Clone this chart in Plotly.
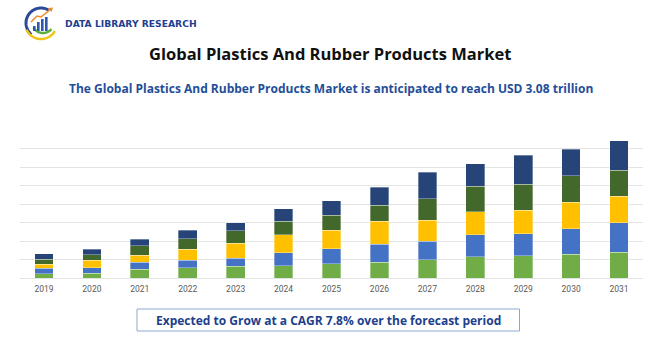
import math
import plotly.graph_objects as go

years = ["2019", "2020", "2021", "2022", "2023", "2024", "2025",
         "2026", "2027", "2028", "2029", "2030", "2031"]

# Segment values (USD billion), bottom to top
seg1 = [97, 112, 195, 225, 262, 270, 322, 352, 405, 472, 495, 532, 577]
seg2 = [127, 120, 157, 172, 180, 292, 330, 405, 420, 502, 502, 570, 659]
seg3 = [82, 165, 157, 247, 337, 412, 420, 517, 472, 517, 525, 600, 600]
seg4 = [120, 120, 210, 232, 277, 300, 337, 360, 487, 570, 577, 592, 577]
seg5 = [120, 127, 150, 195, 180, 277, 330, 405, 592, 502, 659, 592, 667]

series = [
    ("Segment 1", seg1, "#70AD47"),
    ("Segment 2", seg2, "#4472C4"),
    ("Segment 3", seg3, "#FFC000"),
    ("Segment 4", seg4, "#43682B"),
    ("Segment 5", seg5, "#264478"),
]

W, H = 670, 350
ML, MR, MT, MB = 20, 27, 130, 72
PW, PH = W - ML - MR, H - MT - MB


def px(x):
    return (x - ML) / PW


def py(y):
    return (H - MB - y) / PH


fig = go.Figure()
for name, vals, col in series:
    fig.add_trace(go.Bar(
        x=years, y=vals, name=name,
        marker=dict(color=col, line=dict(color="rgba(255,255,255,0.55)", width=0.6)),
        hovertemplate="%{x}: %{y}<extra>" + name + "</extra>",
    ))

annotations = [
    dict(text="<b>Global Plastics And Rubber Products Market</b>",
         x=px(330), y=py(53), xref="paper", yref="paper", showarrow=False,
         font=dict(family="Open Sans", size=16.5, color="#111111"), xanchor="center", yanchor="middle"),
    dict(text="<b>The Global Plastics And Rubber Products Market is anticipated to reach USD 3.08 trillion</b>",
         x=px(331), y=py(88), xref="paper", yref="paper", showarrow=False,
         font=dict(family="Open Sans", size=12, color="#1F4E99"), xanchor="center", yanchor="middle"),
    dict(text="<b>Expected to Grow at a CAGR 7.8% over the forecast period</b>",
         x=px(328), y=py(320), xref="paper", yref="paper", showarrow=False,
         font=dict(family="Open Sans", size=12, color="#203F8C"), xanchor="center", yanchor="middle"),
    dict(text="<b>DATA LIBRARY RESEARCH</b>",
         x=px(63), y=py(23.5), xref="paper", yref="paper", showarrow=False,
         font=dict(family="DejaVu Sans", size=9.2, color="#1F3F8F"), xanchor="left", yanchor="middle"),
]

shapes = [
    dict(type="rect", xref="paper", yref="paper",
         x0=px(137), x1=px(519.5), y0=py(309), y1=py(331),
         line=dict(color="#8EA9CF", width=1), fillcolor="rgba(0,0,0,0)"),
]


def arc_path(cx, cy, r, a0, a1, n=40):
    pts = []
    for i in range(n + 1):
        a = math.radians(a0 + (a1 - a0) * i / n)
        pts.append((px(cx + r * math.cos(a)), py(cy - r * math.sin(a))))
    return "M " + " L ".join(f"{x:.5f},{y:.5f}" for x, y in pts)


# logo: rings
shapes.append(dict(type="path", xref="paper", yref="paper",
                   path=arc_path(41, 23, 15, 60, 230), line=dict(color="#2C4A9A", width=3)))
shapes.append(dict(type="path", xref="paper", yref="paper",
                   path=arc_path(41, 23, 16, 205, 330), line=dict(color="#F2C418", width=2.5)))
shapes.append(dict(type="path", xref="paper", yref="paper",
                   path=arc_path(43, 22, 11, 210, 320), line=dict(color="#5AAE3C", width=2.5)))
# logo: bars
for bx, top in [(33, 26), (37, 22), (41, 19), (45, 17)]:
    shapes.append(dict(type="rect", xref="paper", yref="paper",
                       x0=px(bx), x1=px(bx + 2.6), y0=py(31), y1=py(top),
                       line=dict(width=0), fillcolor="#2F57B0"))
# logo: arrow
shapes.append(dict(type="path", xref="paper", yref="paper",
                   path=f"M {px(31)},{py(22)} L {px(37)},{py(16)} L {px(41)},{py(17)} L {px(51)},{py(9)}",
                   line=dict(color="#F08A24", width=1.5)))
shapes.append(dict(type="path", xref="paper", yref="paper",
                   path=f"M {px(48)},{py(8)} L {px(53)},{py(7.5)} L {px(51.5)},{py(12)} Z",
                   fillcolor="#F08A24", line=dict(width=0)))

fig.update_layout(
    width=W, height=H,
    margin=dict(l=ML, r=MR, t=MT, b=MB, pad=0),
    barmode="stack", bargap=0.61,
    showlegend=False,
    plot_bgcolor="white", paper_bgcolor="white",
    annotations=annotations, shapes=shapes,
    xaxis=dict(showgrid=False, showline=False, ticks="", zeroline=False,
               tickfont=dict(family="Roboto", size=8.5, color="#595959"),
               ticklabelstandoff=4),
    yaxis=dict(range=[0, 8 * 415.2], dtick=415.2, tick0=0, showticklabels=False,
               showgrid=True, gridcolor="#E3E3E3", gridwidth=1,
               zeroline=True, zerolinecolor="#E3E3E3", zerolinewidth=1,
               showline=False, ticks=""),
)

fig.write_html("out.html")
